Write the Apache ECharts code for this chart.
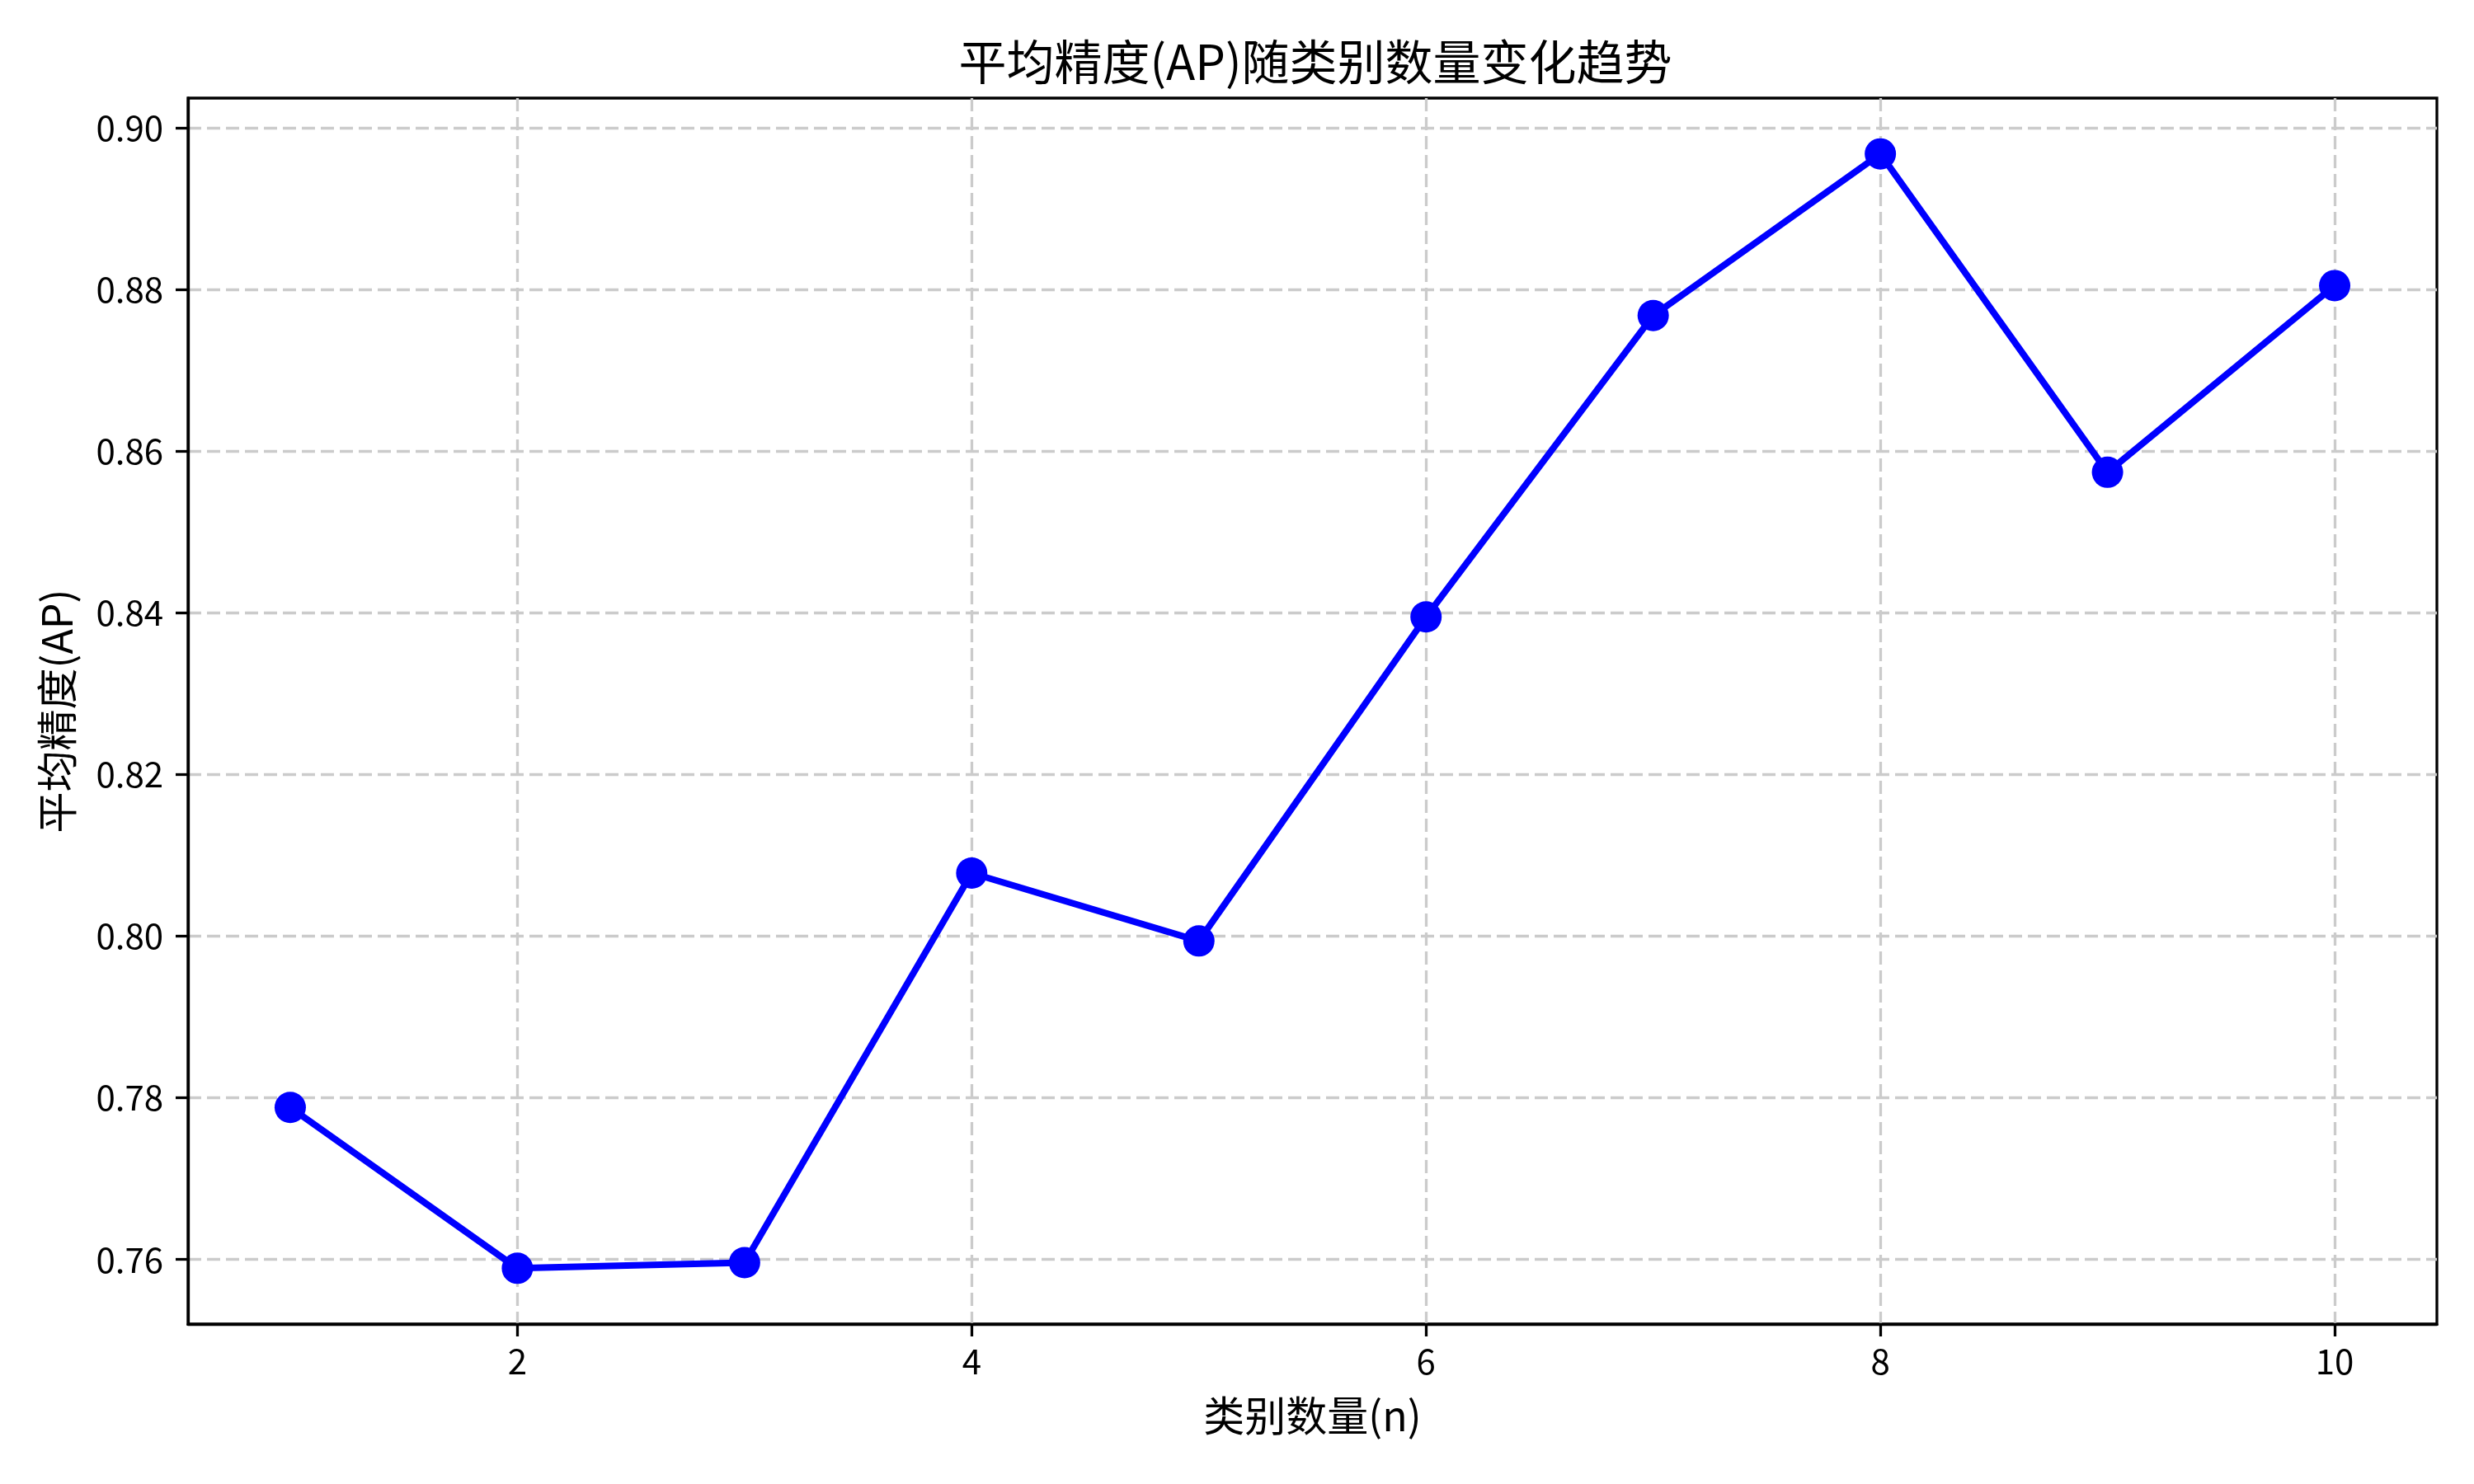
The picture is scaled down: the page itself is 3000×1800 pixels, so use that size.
<!DOCTYPE html>
<html>
<head>
<meta charset="utf-8">
<script src="https://cdn.jsdelivr.net/npm/echarts@6/dist/echarts.min.js"></script>
<style>
    html, body { margin: 0; padding: 0; background: #fff; }
    #ap-chart { width: 3000px; height: 1800px; }
</style>
</head>
<body>
<div id="ap-chart"></div>
<script>
// 类别数量 n 与对应的平均精度
const classCounts = [1, 2, 3, 4, 5, 6, 7, 8, 9, 10];
const apValues = [0.7788, 0.7589, 0.7596, 0.8078, 0.7994, 0.8395, 0.8768, 0.8968, 0.8574, 0.8805];
const xTicks = [2, 4, 6, 8, 10];
const yTicks = [0.76, 0.78, 0.80, 0.82, 0.84, 0.86, 0.88, 0.90];

const font = '"Noto Sans CJK SC", "Noto Sans", sans-serif';
const gridLine = { color: '#cbcbcb', width: 3.3, type: [16, 7] };
const spine = { color: '#000', width: 3.3 };

const chart = echarts.init(document.getElementById('ap-chart'));

const option = {
    animation: false,
    backgroundColor: '#fff',
    title: {
        text: '平均精度(AP)随类别数量变化趋势',
        left: 1590,
        textAlign: 'center',
        top: 41,
        textStyle: { fontFamily: font, fontSize: 58, fontWeight: 'normal', color: '#000' }
    },
    grid: {
        left: 228,
        right: 45,
        top: 119,
        bottom: 194,
        show: true,
        borderColor: '#000',
        borderWidth: 3.3
    },
    xAxis: {
        type: 'value',
        min: 0.55,
        max: 10.45,
        name: '类别数量(n)',
        nameLocation: 'middle',
        nameGap: 86,
        nameTextStyle: { fontFamily: font, fontSize: 50, color: '#000' },
        axisLine: { lineStyle: spine },
        axisTick: { show: true, inside: false, length: 15, lineStyle: spine, customValues: xTicks },
        axisLabel: { fontFamily: font, fontSize: 42, color: '#000', margin: 24, customValues: xTicks },
        splitLine: { show: true, lineStyle: gridLine }
    },
    yAxis: {
        type: 'value',
        min: 0.752,
        max: 0.9037,
        name: '平均精度(AP)',
        nameLocation: 'middle',
        nameGap: 134,
        nameRotate: 90,
        nameTextStyle: { fontFamily: font, fontSize: 50, color: '#000' },
        axisLine: { show: true, lineStyle: spine },
        axisTick: { show: true, inside: false, length: 15, lineStyle: spine, customValues: yTicks },
        axisLabel: {
            fontFamily: font, fontSize: 42, color: '#000', margin: 30,
            customValues: yTicks,
            formatter: v => v.toFixed(2)
        },
        splitLine: { show: true, lineStyle: gridLine }
    },
    series: [
        {
            name: 'AP',
            type: 'line',
            data: classCounts.map((n, i) => [n, apValues[i]]),
            symbol: 'circle',
            symbolSize: 38,
            lineStyle: { color: '#0000ff', width: 8 },
            itemStyle: { color: '#0000ff' }
        }
    ]
};

chart.setOption(option);
</script>
</body>
</html>
